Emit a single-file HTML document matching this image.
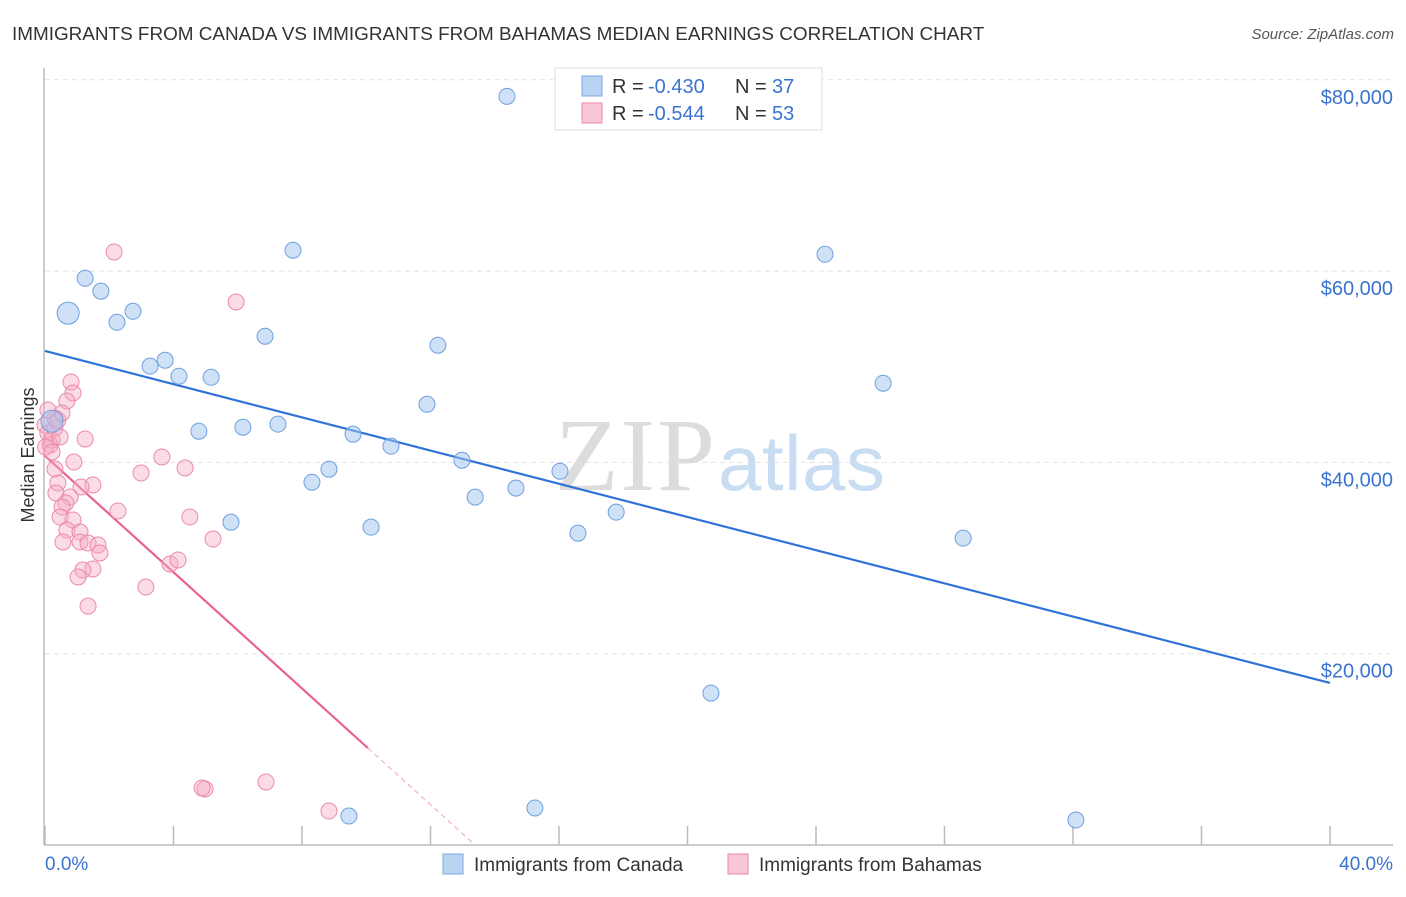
<!DOCTYPE html>
<html><head><meta charset="utf-8"><style>
body{margin:0;background:#fff;font-family:"Liberation Sans",sans-serif}
svg text{font-family:"Liberation Sans",sans-serif}
</style></head><body>
<svg width="1406" height="892" viewBox="0 0 1406 892">
<text x="12" y="40" font-size="18.9" fill="#333">IMMIGRANTS FROM CANADA VS IMMIGRANTS FROM BAHAMAS MEDIAN EARNINGS CORRELATION CHART</text>
<text x="1394" y="39" font-size="15" fill="#555" font-style="italic" text-anchor="end">Source: ZipAtlas.com</text>
<g>
<text x="555" y="490" font-size="104" fill="#dcdcdc" textLength="160" style="font-family:'Liberation Serif',serif">ZIP</text>
<text x="718" y="490" font-size="78" fill="#c8dcf2" textLength="167">atlas</text>
</g>
<g id="grid"></g>
<g id="axes"></g>
<g id="lines"></g>
<g id="pts"></g>
<text transform="translate(34,455) rotate(-90)" font-size="18" fill="#333" text-anchor="middle">Median Earnings</text>
<text x="45" y="870" font-size="19" fill="#3a74d0">0.0%</text>
<text x="1393" y="870" font-size="19" fill="#3a74d0" text-anchor="end">40.0%</text>
<g>
<rect x="555" y="68" width="267" height="62" fill="#fff" stroke="#ddd"/>
<rect x="582" y="76" width="20" height="20" fill="#b9d3f3" stroke="#7aaae6"/>
<rect x="582" y="103" width="20" height="20" fill="#f9c6d6" stroke="#eb8aaa"/>
<text x="612" y="93" font-size="20" fill="#333">R =</text>
<text x="648" y="93" font-size="20" fill="#3a74d0">-0.430</text>
<text x="735" y="93" font-size="20" fill="#333">N =</text>
<text x="772" y="93" font-size="20" fill="#3a74d0">37</text>
<text x="612" y="120" font-size="20" fill="#333">R =</text>
<text x="648" y="120" font-size="20" fill="#3a74d0">-0.544</text>
<text x="735" y="120" font-size="20" fill="#333">N =</text>
<text x="772" y="120" font-size="20" fill="#3a74d0">53</text>
</g>
<g>
<rect x="443" y="854" width="20" height="20" fill="#b9d3f3" stroke="#7aaae6"/>
<text x="474" y="871" font-size="19" fill="#333">Immigrants from Canada</text>
<rect x="728" y="854" width="20" height="20" fill="#f9c6d6" stroke="#eb8aaa"/>
<text x="759" y="871" font-size="19" fill="#333">Immigrants from Bahamas</text>
</g>
</svg>
<script>
const yTicks=[20000,40000,60000,80000];
const yTickLabels=["$20,000","$40,000","$60,000","$80,000"];
const xTicks=[0,4,8,12,16,20,24,28,32,36,40];
const canadaX=[14.38,1.25,1.74,0.72,2.24,2.74,7.72,6.85,3.27,3.74,4.17,5.17,12.23,24.28,26.09,11.89,4.79,6.16,7.25,9.59,10.77,0.22,8.84,8.31,12.98,16.03,13.39,14.66,17.78,5.79,10.15,16.59,28.58,20.73,15.25,9.46,32.09];
const canadaY=[78270,59250,57900,55600,54650,55800,62180,53190,50060,50680,49010,48900,52250,61760,48280,46080,43260,43680,44000,42950,41700,44300,39290,37930,40230,39080,36370,37310,34800,33750,33230,32600,32080,15880,3870,3030,2610];
const canadaBig=[3,21];
const bahamasX=[0.81,0.87,0.68,1.25,0.90,0.31,2.99,3.64,4.36,0.40,1.49,1.12,0.34,0.78,0.65,0.53,2.27,0.47,0.87,0.68,4.51,1.09,0.56,1.09,1.34,1.65,1.71,5.23,3.89,4.14,1.49,1.18,1.03,3.14,1.34,2.15,5.95,4.98,4.89,6.88,8.84,0.0,0.09,0.22,0.31,0.16,0.31,0.47,0.02,0.40,0.53,0.09,0.22];
const bahamasY=[48400,47260,46420,42450,40040,39310,38890,40570,39420,37850,37640,37430,36800,36380,35760,35340,34920,34290,33980,32930,34290,32720,31680,31680,31570,31370,30530,31990,29380,29800,28860,28750,28020,26970,24980,62000,56770,5850,5960,6590,3550,43910,43080,42340,43600,41820,44640,42660,41610,44430,45170,45480,41090];
const canadaFit=[51650,-867.8];
const bahamasFit=[40670,-3038];
const x0=45,x1=1330,yb=845,yPer=191.3/20000;
const sx=v=>x0+v/40*(x1-x0);
const sy=v=>yb-v*yPer;
const NS="http://www.w3.org/2000/svg";
function mk(t,a,p){const e=document.createElementNS(NS,t);for(const k in a)e.setAttribute(k,a[k]);p.appendChild(e);return e;}
const grid=document.getElementById('grid'),axes=document.getElementById('axes'),lines=document.getElementById('lines'),pts=document.getElementById('pts');
yTicks.forEach((t,i)=>{
 const g=mk('line',{x1:45,x2:1393,y1:sy(t),y2:sy(t),stroke:'#e2e2e2','stroke-dasharray':'5,4'},grid);
 
 
 const tx=mk('text',{x:1393,y:sy(t)+24,'font-size':20,fill:'#3a74d0','text-anchor':'end'},grid);
 tx.textContent=yTickLabels[i];
 
 
});
const ya=mk('line',{x1:44,x2:44,y1:68,y2:845,stroke:'#bbb','stroke-width':1.5},axes);


const xa=mk('line',{x1:44,x2:1393,y1:845,y2:845,stroke:'#bbb','stroke-width':1.5},axes);


xTicks.forEach(t=>{
 const l=mk('line',{x1:sx(t),x2:sx(t),y1:826,y2:845,stroke:'#bbb','stroke-width':1.5},axes);
 
 
});
bahamasX.forEach((x,i)=>{
 const c=mk('circle',{cx:sx(x),cy:sy(bahamasY[i]),r:8,fill:'rgba(246,172,196,0.42)',stroke:'#eb8aaa','stroke-width':1},pts);
 
 
});
canadaX.forEach((x,i)=>{
 const c=mk('circle',{cx:sx(x),cy:sy(canadaY[i]),r:canadaBig.includes(i)?11:8,fill:'rgba(160,195,240,0.5)',stroke:'#6fa0e0','stroke-width':1},pts);
 
 
});
const bl=mk('line',{x1:sx(0),y1:sy(canadaFit[0]),x2:sx(40),y2:sy(canadaFit[0]+canadaFit[1]*40),stroke:'#2f73d6','stroke-width':2.2},lines);


const xe=10.05,xz=-bahamasFit[0]/bahamasFit[1];
const pl=mk('line',{x1:sx(0),y1:sy(bahamasFit[0]),x2:sx(xe),y2:sy(bahamasFit[0]+bahamasFit[1]*xe),stroke:'#e8638f','stroke-width':2.2},lines);


const pd=mk('line',{x1:sx(xe),y1:sy(bahamasFit[0]+bahamasFit[1]*xe),x2:sx(xz),y2:sy(0),stroke:'#f0a0b8','stroke-width':1,'stroke-dasharray':'5,4'},lines);


</script>
</body></html>
